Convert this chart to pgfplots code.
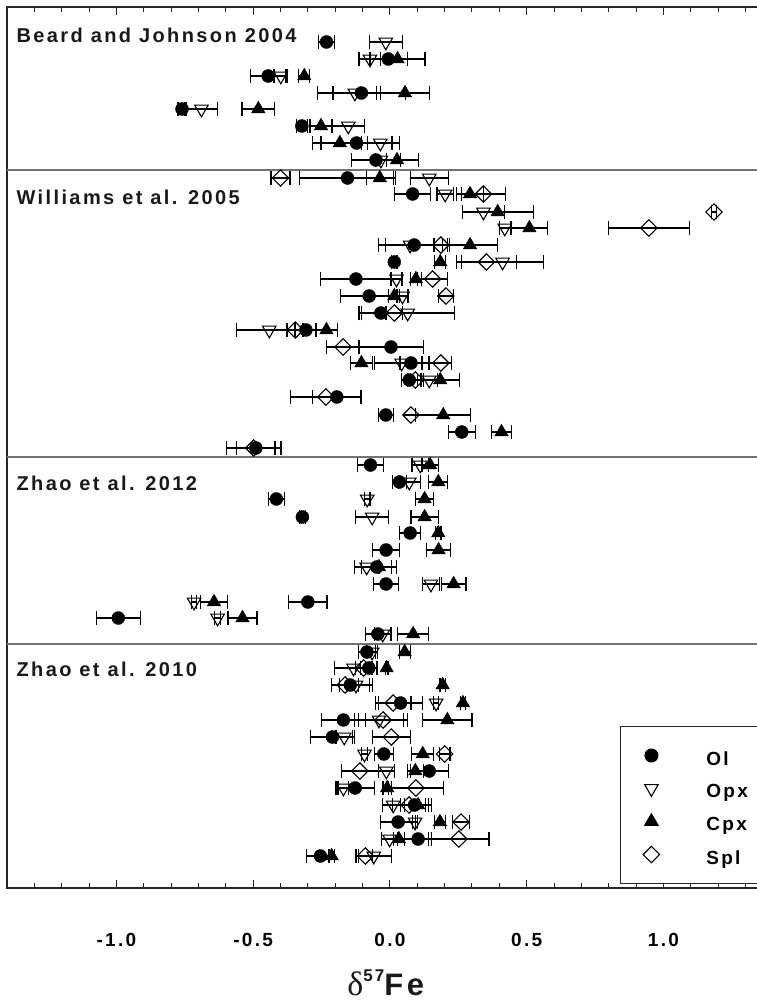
\documentclass[border=0pt]{standalone}
\usepackage{pgfplots}
\pgfplotsset{compat=1.18}
\usepackage{pgfplotstable}
\usepackage{fontspec}
\setmainfont{Liberation Sans}
\newfontfamily\lab[LetterSpace=12]{Liberation Sans}
\newfontfamily\grk{Liberation Serif}

% y = row position (image rows, top = 7, bottom = 888), x = delta57Fe, ex = error
\pgfplotstableread{
y x ex
42 -0.232 0.03
59 -0.006 0.07
76 -0.445 0.065
93 -0.104 0.16
109 -0.76 0.015
126 -0.322 0.02
143 -0.122 0.13
160 -0.051 0.09
178 -0.155 0.175
194 0.083 0.065
245 0.089 0.13
262 0.016 0.01
279 -0.124 0.13
296 -0.076 0.105
313 -0.033 0.08
330 -0.307 0.04
347 0.004 0.12
363 0.077 0.04
380 0.071 0.03
397 -0.194 0.09
415 -0.015 0.028
432 0.263 0.05
448 -0.49 0.07
465 -0.071 0.048
482 0.035 0.025
499 -0.415 0.03
517 -0.32 0.01
533 0.074 0.038
550 -0.014 0.05
567 -0.048 0.055
584 -0.014 0.045
602 -0.30 0.07
618 -0.993 0.08
634 -0.044 0.045
652 -0.084 0.03
668 -0.077 0.03
685 -0.145 0.07
703 0.039 0.08
720 -0.17 0.08
737 -0.21 0.08
754 -0.022 0.035
771 0.144 0.07
788 -0.127 0.07
805 0.09 0.05
822 0.03 0.065
839 0.103 0.05
856 -0.254 0.05
}\olTable

\pgfplotstableread{
y x ex
42 -0.015 0.06
59 -0.073 0.04
76 -0.399 0.025
93 -0.128 0.08
109 -0.689 0.06
126 -0.152 0.06
143 -0.035 0.07
160 -0.033 0.02
178 0.144 0.07
194 0.202 0.03
212 0.342 0.077
228 0.42 0.02
245 0.074 0.09
262 0.412 0.15
279 0.024 0.02
296 0.046 0.02
313 0.065 0.17
330 -0.441 0.12
363 0.043 0.1
380 0.144 0.03
465 0.111 0.03
482 0.071 0.04
499 -0.083 0.01
517 -0.065 0.06
567 -0.085 0.045
584 0.15 0.03
602 -0.716 0.01
618 -0.63 0.012
634 -0.026 0.03
652 -0.065 0.02
668 -0.133 0.07
685 -0.124 0.06
703 0.169 0.01
720 -0.04 0.09
737 -0.167 0.03
754 -0.093 0.01
771 -0.013 0.03
788 -0.17 0.02
805 0.012 0.04
822 0.092 0.01
839 -0.001 0.03
856 -0.059 0.065
}\opxTable

\pgfplotstableread{
y x ex
59 0.028 0.1
76 -0.313 0.02
93 0.055 0.09
109 -0.481 0.06
126 -0.252 0.04
143 -0.183 0.1
160 0.026 0.08
178 -0.037 0.05
194 0.293 0.05
212 0.394 0.13
228 0.51 0.066
245 0.293 0.1
262 0.184 0.02
279 0.095 0.02
296 0.016 0.02
330 -0.232 0.04
363 -0.104 0.04
380 0.184 0.07
415 0.195 0.1
432 0.408 0.037
465 0.147 0.03
482 0.177 0.035
499 0.127 0.033
517 0.127 0.05
533 0.177 0.01
550 0.178 0.045
567 -0.04 0.065
584 0.233 0.045
602 -0.643 0.05
618 -0.539 0.053
634 0.085 0.056
652 0.054 0.02
668 -0.012 0.005
685 0.193 0.01
703 0.267 0.01
720 0.21 0.09
754 0.12 0.04
771 0.093 0.03
788 -0.01 0.015
805 0.103 0.05
822 0.183 0.02
839 0.033 0.02
856 -0.213 0.01
}\cpxTable

\pgfplotstableread{
y x ex
178 -0.40 0.035
194 0.342 0.08
212 1.185 0.01
228 0.947 0.148
245 0.186 0.025
262 0.353 0.11
279 0.156 0.055
296 0.205 0.028
313 0.016 0.03
330 -0.346 0.03
347 -0.171 0.06
363 0.186 0.04
380 0.093 0.03
397 -0.234 0.128
415 0.077 0.0
448 -0.498 0.1
668 -0.096 0.03
685 -0.164 0.05
703 0.012 0.065
720 -0.025 0.09
737 0.005 0.07
754 0.2 0.02
771 -0.11 0.068
788 0.095 0.1
805 0.07 0.06
822 0.26 0.03
839 0.252 0.11
856 -0.09 0.025
}\splTable

\begin{document}
\begin{tikzpicture}[x=1pt,y=1pt]
\useasboundingbox (0,0) rectangle (757,1006);
\clip (0,0) rectangle (757,1006);
\begin{axis}[
  at={(7pt,118pt)}, anchor=south west,
  scale only axis, width=765.8pt, height=881pt,
  xmin=-1.4, xmax=1.4, ymin=7, ymax=888, y dir=reverse,
  ytick=\empty,
  xtick={-1,-0.5,0,0.5,1},
  xticklabels={-1.0,-0.5,0.0,0.5,1.0},
  minor xtick={-1.4,-1.3,-1.2,-1.1,-0.9,-0.8,-0.7,-0.6,-0.4,-0.3,-0.2,-0.1,0.1,0.2,0.3,0.4,0.6,0.7,0.8,0.9,1.1,1.2,1.3},
  major tick length=8pt, minor tick length=5pt,
  tick style={black!85, line width=1pt},
  xticklabel style={anchor=center, yshift=-52pt, font=\lab\bfseries\fontsize{19}{19}\selectfont},
  axis line style={black!85, line width=1.1pt},
  extra y ticks={170,457,644},
  extra y tick labels={},
  extra y tick style={grid=major, major grid style={black!55, line width=1.2pt}, major tick length=0pt},
  clip=false,
  legend style={at={(axis cs:0.841,726)}, anchor=north west, draw=black!85, line width=1pt,
    fill=white, inner xsep=0pt, inner ysep=12.5pt, row sep=0pt, column sep=0pt,
    nodes={inner sep=0pt}, font=\lab\bfseries\fontsize{19}{19}\selectfont},
  legend image code/.code={
    \path[draw=none, fill=none] (0pt,-16.5pt) rectangle (86pt,16.5pt);
    \draw[#1] plot coordinates {(31pt,0pt)};
  },
]
\addplot[only marks, mark=*, mark size=6.5pt, black,
  error bars/.cd, x dir=both, x explicit,
  error bar style={line width=1.2pt, black},
  error mark options={rotate=90, mark size=7pt, line width=1.2pt, black}]
  table[x=x, y=y, x error=ex] {\olTable};
\addlegendentry{\raisebox{-7pt}{\makebox[60pt][l]{Ol}}}
\addplot[only marks, mark=triangle, mark size=7.8pt, black, mark options={rotate=180, fill=white, line width=1.1pt},
  error bars/.cd, x dir=both, x explicit,
  error bar style={line width=1.2pt, black},
  error mark options={rotate=90, mark size=7pt, line width=1.2pt, black}]
  table[x=x, y=y, x error=ex] {\opxTable};
\addlegendentry{\raisebox{-7pt}{\makebox[60pt][l]{Opx}}}
\addplot[only marks, mark=triangle*, mark size=7.8pt, black,
  error bars/.cd, x dir=both, x explicit,
  error bar style={line width=1.2pt, black},
  error mark options={rotate=90, mark size=7pt, line width=1.2pt, black}]
  table[x=x, y=y, x error=ex] {\cpxTable};
\addlegendentry{\raisebox{-7pt}{\makebox[60pt][l]{Cpx}}}
\addplot[only marks, mark=square, mark size=5.8pt, black, mark options={rotate=45, fill=white, line width=1.1pt},
  error bars/.cd, x dir=both, x explicit,
  error bar style={line width=1.2pt, black},
  error mark options={rotate=90, mark size=7pt, line width=1.2pt, black}]
  table[x=x, y=y, x error=ex] {\splTable};
\addlegendentry{\raisebox{-7pt}{\makebox[60pt][l]{Spl}}}

\node[anchor=west, text=black!90, font=\lab\bfseries\fontsize{20}{20}\selectfont] at (axis cs:-1.378,35) {Beard and Johnson 2004};
\node[anchor=west, text=black!90, font=\lab\bfseries\fontsize{20}{20}\selectfont] at (axis cs:-1.378,197) {Williams et al. 2005};
\node[anchor=west, text=black!90, font=\lab\bfseries\fontsize{20}{20}\selectfont] at (axis cs:-1.378,483) {Zhao et al. 2012};
\node[anchor=west, text=black!90, font=\lab\bfseries\fontsize{20}{20}\selectfont] at (axis cs:-1.378,669) {Zhao et al. 2010};
\node[anchor=center, text=black!90] at (axis cs:-0.015,983) {{\grk\fontsize{34}{34}\selectfont δ}\raisebox{14pt}{\lab\bfseries\fontsize{17}{17}\selectfont 57}{\lab\bfseries\fontsize{31}{31}\selectfont Fe}};
\end{axis}
\end{tikzpicture}
\end{document}
